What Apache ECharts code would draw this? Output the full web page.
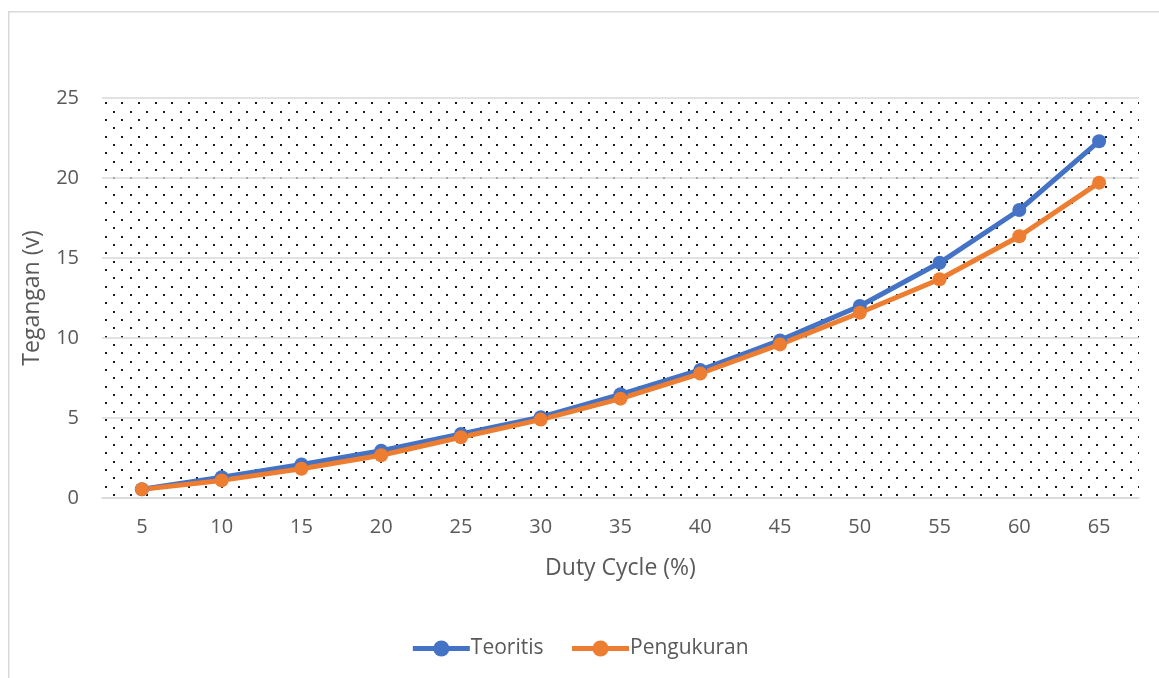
<!DOCTYPE html>
<html>
<head>
<meta charset="utf-8">
<script src="https://cdn.jsdelivr.net/npm/echarts@6/dist/echarts.min.js"></script>
<style>
html,body{margin:0;padding:0;background:#fff;}
#chart{width:1159px;height:678px;}
</style>
</head>
<body>
<div id="chart"></div>
<script>
const categories = ['5','10','15','20','25','30','35','40','45','50','55','60','65'];
const teoritis = [0.55, 1.3, 2.1, 2.95, 4.0, 5.05, 6.48, 8.0, 9.85, 12.0, 14.7, 18.0, 22.3];
const pengukuran = [0.54, 1.1, 1.83, 2.67, 3.8, 4.9, 6.21, 7.78, 9.6, 11.58, 13.67, 16.36, 19.71];
const yTicks = {min: 0, max: 25, interval: 5};
const seriesNames = ['Teoritis', 'Pengukuran'];
const xName = 'Duty Cycle (%)';
const yName = 'Tegangan (v)';

// dotted background pattern
const tile = document.createElement('canvas');
tile.width = 50; tile.height = 50;
const ctx = tile.getContext('2d');
ctx.fillStyle = '#1a1a1a';
const step = 50 / 3;
for (let i = 0; i < 3; i++) {
  for (let j = 0; j < 3; j++) {
    ctx.fillRect(Math.round(5.7 + i * step) - 1, Math.round(3.3 + j * step) - 1, 2, 2);
    ctx.fillRect(Math.round(14 + i * step) - 1, Math.round(11.7 + j * step) - 1, 2, 2);
  }
}

const txt = '#595959';
const chart = echarts.init(document.getElementById('chart'), null, {renderer: 'canvas'});
chart.setOption({
  animation: false,
  textStyle: {fontFamily: 'Open Sans', color: txt},
  graphic: [{
    type: 'rect', left: 8, top: 11, z: -10,
    shape: {x: 0, y: 0, width: 1200, height: 720},
    style: {fill: '#fff', stroke: '#d9d9d9', lineWidth: 1.5}
  }],
  grid: {
    left: 102, right: 20, top: 98, bottom: 180,
    show: true, borderWidth: 0,
    backgroundColor: {image: tile, repeat: 'repeat'}
  },
  legend: {
    bottom: 14, left: 'center',
    itemWidth: 57, itemHeight: 20, itemGap: 26,
    lineStyle: {width: 5},
    textStyle: {fontFamily: 'Open Sans', fontSize: 21, color: txt, padding: [0, 0, 0, -4]},
    data: seriesNames
  },
  xAxis: {
    type: 'category', data: categories, boundaryGap: true,
    name: xName, nameLocation: 'middle', nameGap: 59,
    nameTextStyle: {fontFamily: 'Open Sans', fontSize: 23, color: txt},
    axisLine: {lineStyle: {color: '#d9d9d9', width: 1.5}},
    axisTick: {show: false},
    axisLabel: {fontFamily: 'Open Sans', fontSize: 20, color: txt, margin: 19}
  },
  yAxis: {
    type: 'value', min: yTicks.min, max: yTicks.max, interval: yTicks.interval,
    name: yName, nameLocation: 'middle', nameGap: 58, nameRotate: 90,
    nameTextStyle: {fontFamily: 'Open Sans', fontSize: 23, color: txt},
    axisLine: {show: false}, axisTick: {show: false},
    splitLine: {lineStyle: {color: '#d9d9d9', width: 1.5}},
    axisLabel: {fontFamily: 'Open Sans', fontSize: 20, color: txt, margin: 23}
  },
  series: [
    {
      name: seriesNames[0], type: 'line', data: teoritis,
      symbol: 'circle', symbolSize: 14,
      lineStyle: {color: '#4472C4', width: 5},
      itemStyle: {color: '#4472C4'}
    },
    {
      name: seriesNames[1], type: 'line', data: pengukuran,
      symbol: 'circle', symbolSize: 14,
      lineStyle: {color: '#ED7D31', width: 5},
      itemStyle: {color: '#ED7D31'}
    }
  ]
});
</script>
</body>
</html>
